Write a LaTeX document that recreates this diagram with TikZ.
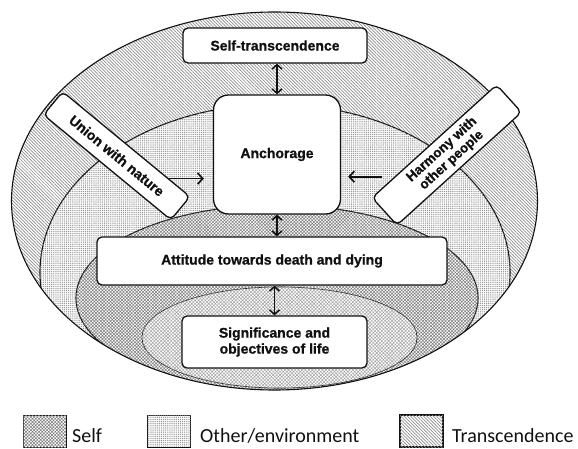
\documentclass[tikz,border=0pt]{standalone}
\usepackage{fontspec}
\setmainfont{Liberation Sans}
\newfontfamily\boxfont{Liberation Sans Bold}[FakeBold=0.8]
\newfontfamily\legendfont{Carlito}
\usepackage{tikz}
\usetikzlibrary{arrows.meta,positioning,calc,patterns.meta}
\definecolor{Ink}{HTML}{111111}
\definecolor{HatchGray}{HTML}{8E8E8E}
\definecolor{DotGray}{HTML}{8C8C8C}
\definecolor{SelfGray}{HTML}{7C7C7C}
\definecolor{CoreGray}{HTML}{A0A0A0}
\tikzset{
  zone/.style={draw=Ink,line width=1.1pt},
  transFill/.style={fill=white,postaction={pattern={Lines[angle=-45,distance=2.3pt,line width=0.7pt]},pattern color=HatchGray}},
  otherFill/.style={fill=white,postaction={pattern={Dots[distance=1.9pt,radius=0.6pt]},pattern color=DotGray}},
  selfFill/.style={fill=white,postaction={pattern={Hatch[angle=45,distance=2.3pt,line width=0.5pt]},pattern color=SelfGray}},
  coreFill/.style={fill=white,postaction={pattern={Hatch[angle=45,distance=2.4pt,line width=0.45pt]},pattern color=CoreGray}},
  box/.style={draw=Ink,line width=1.3pt,rounded corners=5pt,fill=white,align=center,inner sep=0pt,
    text=Ink,font=\boxfont\fontsize{14}{16}\selectfont},
  arrow/.style={-{Straight Barb[length=5pt,width=11pt]},line width=1.7pt,draw=Ink},
  dblArrow/.style={{Straight Barb[length=4.5pt,width=10pt]}-{Straight Barb[length=4.5pt,width=10pt]},line width=1.5pt,draw=Ink},
  key/.style={draw=Ink,line width=0.8pt,minimum width=43pt,minimum height=32pt,inner sep=0pt},
  keyText/.style={font=\legendfont\fontsize{20}{22}\selectfont,text=Ink,inner sep=0pt}
}
\begin{document}
\begin{tikzpicture}[x=1pt,y=1pt]
\useasboundingbox (0,0) rectangle (578,448);
% nested areas
\begin{scope}
\clip (274.5,247) ellipse [x radius=263,y radius=189];
\fill[transFill] (274.5,247) ellipse [x radius=263,y radius=189];
\filldraw[otherFill,zone] (275,175.6) ellipse [x radius=235,y radius=168];
\filldraw[selfFill,zone] (277,150) ellipse [x radius=201,y radius=93];
\filldraw[coreFill,zone,line width=0.6pt] (279.5,110.5) ellipse [x radius=137.5,y radius=50.5];
\end{scope}
\draw[zone] (274.5,247) ellipse [x radius=263,y radius=189];

\node[box,minimum width=184pt,minimum height=35pt] (selftr) at (275,402.5) {Self-transcendence};
\node[box,rounded corners=15pt,minimum width=127pt,minimum height=119pt] (anchor) at (277,293.5) {Anchorage};
\node[box,minimum width=350pt,minimum height=48pt] (attitude) at (272,187) {Attitude towards death and dying};
\node[box,minimum width=185pt,minimum height=52pt] (signif) at (274.5,106) {Significance and\\objectives of life};
\node[box,rotate=-39.5,minimum width=165pt,minimum height=30pt] (union) at (116.75,292.25) {Union with nature};
\node[box,rotate=42.2,minimum width=168pt,minimum height=37pt,font=\boxfont\fontsize{13.5}{14.5}\selectfont] (harmony) at (446.8,293) {Harmony with\\other people};

\draw[dblArrow] (anchor.north) -- (anchor.north |- selftr.south);
\draw[dblArrow] (anchor.south) -- (anchor.south |- attitude.north);
\draw[dblArrow] (signif.north) -- (signif.north |- attitude.south);
\coordinate (natureTail) at ($(union.north west)!0.83!(union.north east)$);
\coordinate (peopleTail) at ($(harmony.north west)+(11,21)$);
\draw[arrow,shorten >=9pt] (natureTail) -- (natureTail -| anchor.west);
\draw[arrow,shorten >=7pt] (peopleTail) -- (peopleTail -| anchor.east);

% legend
\node[key,selfFill] (keySelf) at (44.5,17) {};
\node[keyText,anchor=base west] (txtSelf) at (72,6) {Self};
\node[key,otherFill] (keyOther) at (169,17) {};
\node[keyText,anchor=base west] (txtOther) at (200,6) {Other/environment};
\node[key,transFill,line width=1.3pt] (keyTrans) at (421.5,17) {};
\node[keyText,anchor=base west] (txtTrans) at (452,6) {Transcendence};
\end{tikzpicture}
\end{document}
